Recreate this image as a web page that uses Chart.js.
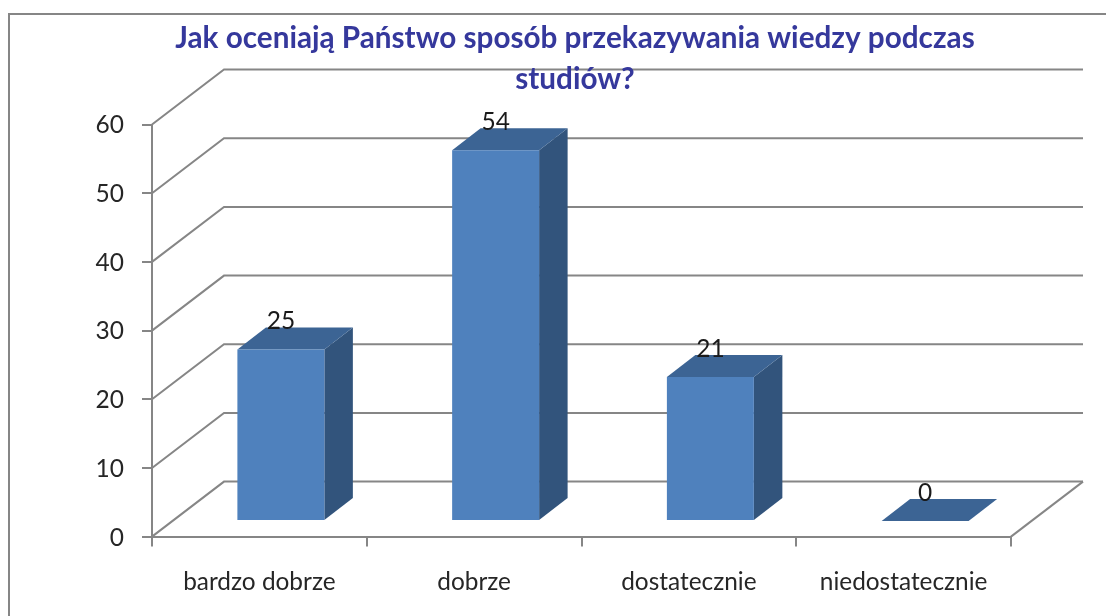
<!DOCTYPE html>
<html>
<head>
<meta charset="utf-8">
<title>Jak oceniają Państwo sposób przekazywania wiedzy podczas studiów?</title>
<script src="https://cdn.jsdelivr.net/npm/chart.js@4/dist/chart.umd.min.js"></script>
<style>
    html, body { margin: 0; padding: 0; background: #fff; overflow: hidden; }
    #wrap { position: relative; width: 1106px; height: 616px; }
    #frame { position: absolute; left: 8px; top: 13px; right: -4px; bottom: -4px; border: 2px solid #868686; }
    canvas { position: absolute; left: 0; top: 0; display: block; }
</style>
</head>
<body>
<div id="wrap">
    <div id="frame"></div>
    <canvas id="resultChart" width="1106" height="616"></canvas>
</div>
<script>
const titleLines = ["Jak oceniają Państwo sposób przekazywania wiedzy podczas", "studiów?"];
const categories = ["bardzo dobrze", "dobrze", "dostatecznie", "niedostatecznie"];
const answers = [25, 54, 21, 0];

const FONT = "Lato, Calibri, sans-serif";
const LINE = "#868686";

// depth of the fake 3D box, and how far the bars stand off the front edge
const WALL = { dx: 72, dy: -55 };
const BAR_SHIFT = { dx: 21.5, dy: -15.5 };
const BAR_DEPTH = { dx: 28.5, dy: -22 };

function stroke(ctx, pts) {
    ctx.beginPath();
    pts.forEach((p, i) => i ? ctx.lineTo(p[0], p[1]) : ctx.moveTo(p[0], p[1]));
    ctx.stroke();
}

function face(ctx, pts, color) {
    ctx.beginPath();
    pts.forEach((p, i) => i ? ctx.lineTo(p[0], p[1]) : ctx.moveTo(p[0], p[1]));
    ctx.closePath();
    ctx.fillStyle = color;
    ctx.fill();
}

// walls: every y tick runs back along the side wall and across the back wall
const walls = {
    id: "walls",
    beforeDraw(chart) {
        const { ctx, chartArea, scales } = chart;
        ctx.save();
        ctx.strokeStyle = LINE;
        ctx.lineWidth = 2;
        scales.y.ticks.forEach(t => {
            const y = scales.y.getPixelForValue(t.value);
            stroke(ctx, [
                [chartArea.left, y],
                [chartArea.left + WALL.dx, y + WALL.dy],
                [chartArea.right + WALL.dx, y + WALL.dy]
            ]);
        });
        stroke(ctx, [
            [chartArea.right, chartArea.bottom],
            [chartArea.right + WALL.dx, chartArea.bottom + WALL.dy]
        ]);
        ctx.restore();
    }
};

// side and top faces come from the bar elements, the front is the real bar moved by BAR_SHIFT
const bars3d = {
    id: "bars3d",
    beforeDatasetsDraw(chart) {
        const { ctx } = chart;
        ctx.save();
        ctx.translate(BAR_SHIFT.dx, BAR_SHIFT.dy);
        chart.getDatasetMeta(0).data.forEach(bar => {
            const l = bar.x - bar.width / 2;
            const r = bar.x + bar.width / 2;
            const d = BAR_DEPTH;
            face(ctx, [[r, bar.y], [r + d.dx, bar.y + d.dy], [r + d.dx, bar.base + d.dy], [r, bar.base]], "#32547c");
            face(ctx, [[l, bar.y], [l + d.dx, bar.y + d.dy], [r + d.dx, bar.y + d.dy], [r, bar.y]], "#3c6494");
        });
    },
    afterDatasetsDraw(chart) {
        const { ctx } = chart;
        ctx.restore();
        ctx.save();
        ctx.fillStyle = "#1a1a1a";
        ctx.font = "24.5px " + FONT;
        ctx.textAlign = "center";
        ctx.textBaseline = "middle";
        chart.getDatasetMeta(0).data.forEach((bar, i) => {
            ctx.fillText(answers[i], bar.x + BAR_SHIFT.dx, bar.y + BAR_SHIFT.dy - 28);
        });
        ctx.restore();
    }
};

const ctx = document.getElementById("resultChart").getContext("2d");

new Chart(ctx, {
    type: "bar",
    data: {
        labels: categories,
        datasets: [{
            data: answers,
            backgroundColor: "#4f81bd",
            borderWidth: 0,
            categoryPercentage: 1,
            barPercentage: 0.405
        }]
    },
    options: {
        responsive: false,
        animation: false,
        layout: { padding: { left: 44, right: 0, top: 0, bottom: 0 } },
        plugins: {
            legend: { display: false },
            tooltip: { enabled: false },
            title: {
                display: true,
                text: titleLines,
                color: "#35389c",
                font: { family: FONT, size: 29.7, weight: "bold", lineHeight: 1.37 },
                padding: { top: 18, bottom: 25.2 }
            }
        },
        scales: {
            x: {
                afterFit(scale) { scale.height = 79.4; },
                grid: { drawOnChartArea: false, color: LINE, lineWidth: 2, tickLength: 10 },
                border: { color: LINE, width: 2 },
                ticks: { color: "#262626", font: { family: FONT, size: 24.4 }, padding: 20.5, maxRotation: 0, autoSkip: false }
            },
            y: {
                min: 0,
                max: 60,
                afterFit(scale) { scale.width = 108; },
                grid: { drawOnChartArea: false, color: LINE, lineWidth: 2, tickLength: 10 },
                border: { color: LINE, width: 2 },
                ticks: { stepSize: 10, color: "#262626", font: { family: FONT, size: 24.5 }, padding: 18, labelOffset: 1 }
            },
            // empty axis, only keeps room on the right for the box depth
            depth: {
                type: "linear",
                position: "right",
                afterFit(scale) { scale.width = 95; },
                grid: { display: false },
                border: { display: false },
                ticks: { display: false }
            }
        }
    },
    plugins: [walls, bars3d]
});
</script>
</body>
</html>
